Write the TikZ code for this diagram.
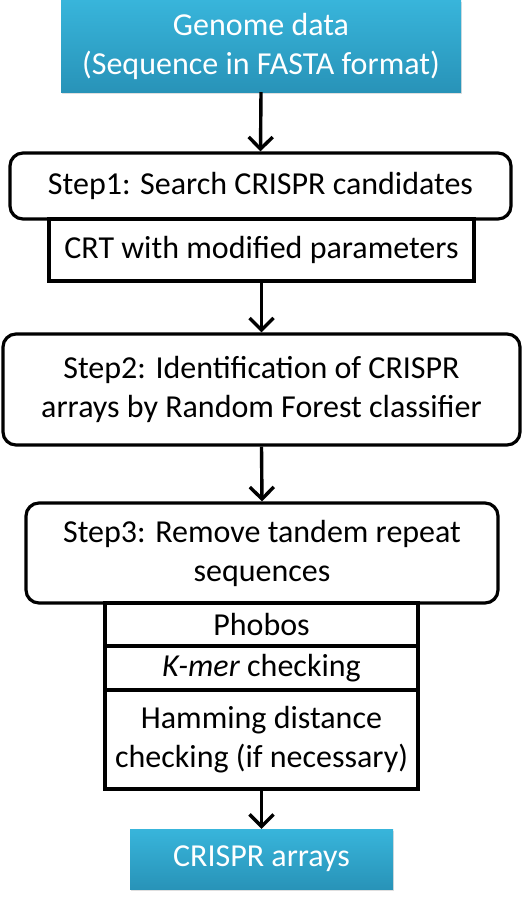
\documentclass[tikz,border=0pt]{standalone}
\usepackage{fontspec}
\setmainfont{Carlito}
\usetikzlibrary{arrows.meta,shadows}
\definecolor{tealtop}{HTML}{38B5DB}
\definecolor{tealbot}{HTML}{2893B8}

\begin{document}
\begin{tikzpicture}[x=1pt,y=1pt,
  inbox/.style={draw=none,top color=tealtop,bottom color=tealbot,text=white,drop shadow={opacity=.25,shadow xshift=1pt,shadow yshift=-2pt},inner sep=0pt,align=center,font=\fontsize{32}{39}\selectfont},
  stepbox/.style={draw,fill=white,line width=3.2pt,rounded corners=13pt,inner sep=0pt,align=center,font=\fontsize{32}{39}\selectfont},
  toolbox/.style={draw,fill=white,line width=3.2pt,inner sep=0pt,align=center,font=\fontsize{32}{39}\selectfont},
  flow/.style={-{Straight Barb[length=12pt,width=24pt,line width=3.4pt]},line width=3.4pt}]
  \useasboundingbox (0,0) rectangle (523,-899);
  \node[inbox,minimum width=400pt,minimum height=92pt] (genome) at (261,-46) {Genome data\\(Sequence in FASTA format)};
  \node[stepbox,minimum width=501pt,minimum height=66pt] (step1) at (260.5,-186) {Step1: Search CRISPR candidates};
  \node[toolbox,minimum width=425pt,minimum height=62pt] (crt) at (261.5,-250) {CRT with modified parameters};
  \node[stepbox,minimum width=517pt,minimum height=111pt] (step2) at (261.5,-389.5) {Step2: Identification of CRISPR\\arrays by Random Forest classifier};
  \node[stepbox,minimum width=472pt,minimum height=100pt] (step3) at (262,-553) {Step3: Remove tandem repeat\\sequences};
  \node[toolbox,minimum width=313pt,minimum height=43pt] (phobos) at (261.5,-624.5) {Phobos};
  \node[toolbox,minimum width=313pt,minimum height=44pt] (kmer) at (261.5,-668) {\textit{K-mer} checking};
  \node[toolbox,minimum width=313pt,minimum height=99pt] (hamming) at (261.5,-739.5) {Hamming distance\\checking (if necessary)};
  \node[inbox,minimum width=263pt,minimum height=60pt] (crispr) at (261.5,-859) {CRISPR arrays};
  \draw[flow] (genome.south) -- (step1.north);
  \draw[flow] (crt.south) -- (step2.north);
  \draw[flow] (step2.south) -- (step3.north);
  \draw[flow] (hamming.south) -- (crispr.north);
\end{tikzpicture}
\end{document}
